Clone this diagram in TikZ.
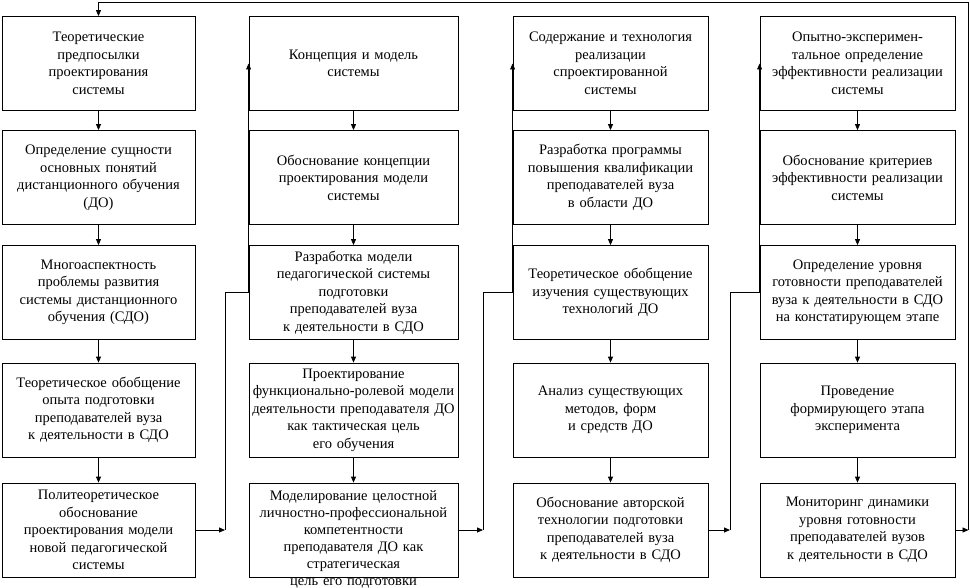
\documentclass[tikz,border=0pt]{standalone}
\usepackage{fontspec}
\setmainfont{Liberation Serif}
\usetikzlibrary{arrows.meta}
\tikzset{
  box/.style={draw,align=center,inner sep=2pt,minimum height=94pt,text width=191pt,font=\fontsize{14.5}{17.5}\selectfont},
  narrow/.style={text width=189pt},
  wide/.style={text width=205pt}
}
\begin{document}
\begin{tikzpicture}[>={Triangle[length=6pt,width=5pt]},x=1pt,y=-1pt,line width=0.8pt]
        \useasboundingbox (0,0) rectangle (970,588);
        % столбец 1
        \node[box,narrow] (b11) at (98.5,63.5) {Теоретические\\предпосылки\\проектирования\\системы};
        \node[box,narrow] (b12) at (98.5,177.5) {Определение сущности\\основных понятий\\дистанционного обучения\\(ДО)};
        \node[box,narrow] (b13) at (98.5,292.5) {Многоаспектность\\проблемы развития\\системы дистанционного\\обучения (СДО)};
        \node[box,narrow] (b14) at (98.5,410) {Теоретическое обобщение\\опыта подготовки\\преподавателей вуза\\к деятельности в СДО};
        \node[box,narrow] (b15) at (98.5,530) {Политеоретическое\\обоснование\\проектирования модели\\новой педагогической\\системы};
        % столбец 2
        \node[box,wide] (b21) at (353.5,63.5) {Концепция и модель\\системы};
        \node[box,wide] (b22) at (353.5,177.5) {Обоснование концепции\\проектирования модели\\системы};
        \node[box,wide] (b23) at (353.5,292.5) {Разработка модели\\педагогической системы\\подготовки\\преподавателей вуза\\к деятельности в СДО};
        \node[box,wide] (b24) at (353.5,410) {Проектирование\\функционально-ролевой модели\\деятельности преподавателя ДО\\как тактическая цель\\его обучения};
        \node[box,wide,text height=15pt,text depth=75pt,font=\fontsize{14.5}{17}\selectfont] (b25) at (353.5,530) {Моделирование целостной\\личностно-профессиональной\\компетентности\\преподавателя ДО как\\стратегическая\\цель его подготовки};
        % столбец 3
        \node[box] (b31) at (610.5,63.5) {Содержание и технология\\реализации\\спроектированной\\системы};
        \node[box] (b32) at (610.5,177.5) {Разработка программы\\повышения квалификации\\преподавателей вуза\\в области ДО};
        \node[box] (b33) at (610.5,292.5) {Теоретическое обобщение\\изучения существующих\\технологий ДО};
        \node[box] (b34) at (610.5,410) {Анализ существующих\\методов, форм\\и средств ДО};
        \node[box] (b35) at (610.5,530) {Обоснование авторской\\технологии подготовки\\преподавателей вуза\\к деятельности в СДО};
        % столбец 4
        \node[box] (b41) at (857.5,63.5) {Опытно-эксперимен-\\тальное определение\\эффективности реализации\\системы};
        \node[box] (b42) at (857.5,177.5) {Обоснование критериев\\эффективности реализации\\системы};
        \node[box] (b43) at (857.5,292.5) {Определение уровня\\готовности преподавателей\\вуза к деятельности в СДО\\на констатирующем этапе};
        \node[box] (b44) at (857.5,410) {Проведение\\формирующего этапа\\эксперимента};
        \node[box] (b45) at (857.5,530) {Мониторинг динамики\\уровня готовности\\преподавателей вузов\\к деятельности в СДО};
        \coordinate (j1) at (225,530);
        \coordinate (j2) at (483,530);
        \coordinate (j3) at (730,530);
        \coordinate (j4) at (968.5,530);
        \coordinate (j5) at (968.5,2);
        \draw[->](b11)--(b12); \draw[->](b12)--(b13); \draw[->](b13)--(b14); \draw[->](b14)--(b15);
        \draw[->](b21)--(b22); \draw[->](b22)--(b23); \draw[->](b23)--(b24); \draw[->](b24)--(b25);
        \draw[->](b31)--(b32); \draw[->](b32)--(b33); \draw[->](b33)--(b34); \draw[->](b34)--(b35);
        \draw[->](b41)--(b42); \draw[->](b42)--(b43); \draw[->](b43)--(b44); \draw[->](b44)--(b45);
        \draw[->](b15.east)--(j1); \draw[->](j1)|-(b23.west)--(b21.west);
        \draw[->](b25.east)--(j2); \draw[->](j2)|-(b33.west)--(b31.west);
        \draw[->](b35.east)--(j3); \draw[->](j3)|-(b43.west)--(b41.west);
        \draw[->](b45.east)--(j4); \draw[->](j4)--(j5)-|(b11.north);
        \end{tikzpicture}
\end{document}
